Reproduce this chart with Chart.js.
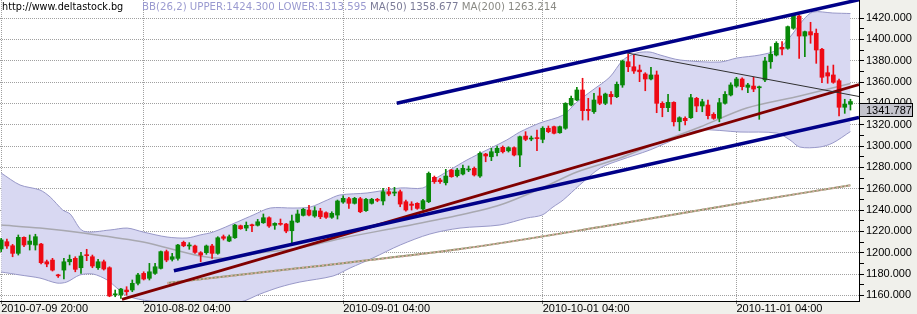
<!DOCTYPE html>
<html>
<head>
<meta charset="utf-8">
<script src="https://cdn.jsdelivr.net/npm/chart.js@4.4.0/dist/chart.umd.min.js"></script>
<style>
  html, body { margin: 0; padding: 0; background: #f0f0eb; }
  #wrap { width: 917px; height: 314px; position: relative; }
</style>
</head>
<body>
<div id="wrap"><canvas id="chart"></canvas></div>
<script>
// Candles, one per bar index (0 .. 149)
const opens = [
  1203.5, 1210.3, 1206.5, 1199.4, 1214.4, 1207.8, 1207.2, 1208.1, 1191.5, 1193.1,
  1179.1, 1183.7, 1191.5, 1194.7, 1185.9, 1197.8, 1196.2, 1185.9, 1191.5, 1185.9,
  1160.5, 1160.3, 1165.0, 1165.0, 1171.3, 1180.6, 1176.0, 1180.6, 1185.3, 1201.0,
  1193.8, 1194.7, 1209.7, 1206.3, 1206.3, 1200.0, 1200.0, 1206.3, 1199.4, 1215.0,
  1210.9, 1214.0, 1225.3, 1223.1, 1225.9, 1225.7, 1228.1, 1232.8, 1225.7, 1227.5,
  1226.9, 1220.6, 1228.8, 1235.0, 1240.0, 1234.4, 1239.1, 1237.5, 1233.2, 1235.3,
  1247.5, 1250.6, 1246.3, 1250.6, 1239.4, 1246.3, 1249.7, 1248.5, 1257.2, 1255.9,
  1257.2, 1247.8, 1245.6, 1246.3, 1241.0, 1247.8, 1270.7, 1268.2, 1265.6, 1277.5,
  1272.2, 1273.8, 1277.6, 1279.1, 1271.9, 1292.5, 1290.0, 1293.8, 1298.8, 1295.6,
  1298.5, 1291.6, 1309.4, 1306.6, 1307.6, 1306.3, 1316.7, 1318.2, 1312.5, 1316.7,
  1338.5, 1343.2, 1352.6, 1334.5, 1332.2, 1347.0, 1340.1, 1348.5, 1346.3, 1357.3,
  1379.1, 1374.4, 1371.3, 1367.6, 1362.9, 1366.7, 1340.1, 1336.0, 1341.0, 1322.8,
  1326.0, 1326.6, 1344.8, 1337.6, 1338.5, 1329.8, 1326.0, 1340.1, 1347.9, 1356.3,
  1362.9, 1355.1, 1356.3, 1354.7, 1362.0, 1379.1, 1385.4, 1392.6, 1391.7, 1410.5,
  1422.0, 1403.2, 1407.3, 1405.8, 1390.8, 1368.8, 1366.7, 1361.3, 1336.4, 1339.2
];
const highs = [
  1213.5, 1212.8, 1207.8, 1216.6, 1215.0, 1216.6, 1217.3, 1208.8, 1193.1, 1194.7,
  1179.8, 1194.7, 1197.8, 1196.2, 1200.3, 1203.2, 1197.8, 1193.8, 1193.1, 1186.8,
  1165.0, 1166.6, 1168.1, 1174.4, 1180.6, 1182.1, 1190.0, 1190.0, 1201.6, 1202.5,
  1199.4, 1207.8, 1210.9, 1209.4, 1207.2, 1201.0, 1207.2, 1207.8, 1215.0, 1216.6,
  1216.6, 1226.6, 1225.9, 1228.8, 1226.9, 1231.3, 1236.3, 1233.7, 1228.1, 1231.6,
  1227.5, 1235.3, 1240.0, 1241.6, 1244.4, 1243.1, 1241.6, 1238.4, 1238.4, 1249.4,
  1253.4, 1251.9, 1251.9, 1251.9, 1251.0, 1251.0, 1251.0, 1260.4, 1261.3, 1261.3,
  1258.8, 1249.4, 1247.8, 1246.9, 1250.1, 1275.7, 1271.9, 1269.8, 1278.2, 1278.2,
  1279.1, 1282.2, 1281.3, 1280.4, 1294.7, 1293.2, 1297.9, 1300.1, 1300.1, 1299.4,
  1299.4, 1309.4, 1313.5, 1309.4, 1315.1, 1318.2, 1318.8, 1318.8, 1318.8, 1340.7,
  1347.0, 1355.1, 1363.6, 1344.8, 1349.5, 1354.7, 1349.7, 1351.0, 1360.1, 1380.7,
  1386.3, 1385.4, 1376.0, 1368.8, 1373.9, 1370.4, 1341.6, 1348.5, 1341.6, 1327.5,
  1327.5, 1348.5, 1345.7, 1343.9, 1343.2, 1331.3, 1344.8, 1351.0, 1359.4, 1364.5,
  1364.1, 1358.9, 1364.5, 1356.3, 1383.3, 1393.2, 1397.9, 1397.9, 1412.6, 1424.5,
  1422.9, 1407.9, 1416.1, 1409.8, 1391.7, 1375.1, 1376.0, 1362.9, 1343.9, 1343.9
];
const lows = [
  1201.0, 1204.0, 1196.2, 1197.8, 1205.6, 1202.5, 1202.5, 1189.4, 1186.8, 1182.8,
  1176.8, 1175.3, 1188.5, 1182.1, 1180.6, 1192.5, 1185.9, 1184.4, 1183.7, 1158.7,
  1158.7, 1157.2, 1160.3, 1163.4, 1169.7, 1174.4, 1174.4, 1179.7, 1184.7, 1191.5,
  1192.2, 1193.1, 1205.6, 1203.2, 1199.4, 1191.5, 1198.5, 1194.7, 1198.5, 1211.9,
  1210.3, 1213.5, 1221.9, 1220.6, 1219.7, 1225.0, 1227.5, 1223.8, 1221.9, 1225.7,
  1218.7, 1208.8, 1228.1, 1234.4, 1234.4, 1233.2, 1231.9, 1232.2, 1232.2, 1231.6,
  1246.3, 1241.6, 1245.6, 1237.5, 1238.8, 1245.6, 1247.8, 1244.7, 1253.4, 1253.4,
  1243.1, 1239.0, 1240.0, 1240.7, 1240.0, 1246.9, 1265.0, 1265.0, 1263.5, 1270.7,
  1271.0, 1272.9, 1276.0, 1271.9, 1270.7, 1285.3, 1286.3, 1290.7, 1293.5, 1294.4,
  1290.7, 1280.6, 1305.0, 1305.0, 1295.6, 1303.1, 1312.5, 1311.3, 1312.0, 1315.7,
  1337.6, 1342.5, 1324.4, 1324.4, 1330.7, 1338.8, 1338.8, 1339.4, 1345.4, 1355.1,
  1369.7, 1368.2, 1360.4, 1351.9, 1362.0, 1331.3, 1327.5, 1332.2, 1318.8, 1314.4,
  1319.8, 1326.0, 1332.2, 1332.2, 1325.4, 1325.1, 1322.8, 1339.4, 1347.0, 1355.1,
  1352.6, 1350.0, 1351.0, 1325.1, 1360.4, 1372.9, 1384.5, 1385.4, 1390.8, 1409.5,
  1382.3, 1383.8, 1396.4, 1377.6, 1359.4, 1358.9, 1358.9, 1328.2, 1330.7, 1333.8
];
const closes = [
  1212.0, 1206.3, 1199.4, 1214.4, 1207.2, 1210.9, 1215.0, 1190.6, 1189.4, 1183.7,
  1178.3, 1191.5, 1193.8, 1184.4, 1196.9, 1197.2, 1187.5, 1191.5, 1184.7, 1159.4,
  1161.3, 1165.9, 1163.4, 1171.3, 1179.1, 1175.3, 1182.1, 1186.8, 1201.0, 1193.1,
  1196.2, 1207.2, 1206.5, 1206.9, 1200.3, 1197.8, 1206.3, 1199.4, 1214.0, 1213.5,
  1215.0, 1225.9, 1222.5, 1225.7, 1225.3, 1229.0, 1232.8, 1225.0, 1227.5, 1226.6,
  1220.3, 1229.7, 1236.3, 1240.7, 1235.3, 1239.4, 1233.7, 1233.2, 1236.9, 1248.5,
  1251.0, 1246.3, 1251.0, 1238.4, 1250.1, 1250.1, 1249.1, 1257.2, 1255.0, 1256.9,
  1245.6, 1240.0, 1244.4, 1241.6, 1248.8, 1274.4, 1266.6, 1266.6, 1271.9, 1271.3,
  1277.5, 1279.1, 1278.5, 1272.9, 1293.2, 1290.7, 1294.7, 1297.9, 1294.7, 1298.5,
  1291.6, 1308.8, 1306.3, 1307.3, 1307.0, 1316.7, 1313.5, 1312.0, 1318.2, 1340.1,
  1344.8, 1352.6, 1333.2, 1333.2, 1343.2, 1340.1, 1348.8, 1346.3, 1357.9, 1379.8,
  1374.4, 1370.4, 1369.7, 1362.9, 1366.7, 1340.1, 1336.0, 1341.0, 1322.8, 1326.6,
  1323.8, 1345.4, 1337.6, 1341.6, 1328.5, 1326.0, 1340.7, 1348.5, 1357.3, 1362.9,
  1355.7, 1357.3, 1353.5, 1355.4, 1379.8, 1386.1, 1396.4, 1391.0, 1412.0, 1422.9,
  1403.2, 1407.3, 1404.2, 1390.1, 1364.5, 1365.7, 1359.8, 1336.4, 1339.4, 1341.787
];

// Indicators as [bar index, value]
const bbUpper = [
  [0, 1274.7], [3.3, 1263.5], [6.8, 1258.8], [8.6, 1252.2], [10.8, 1240.0], [12.1, 1236.3],
  [14.4, 1220.3], [19.1, 1221.3], [22.1, 1223.1], [24.9, 1219.4], [29.1, 1214.7], [32.6, 1213.8],
  [34.9, 1216.6], [37.2, 1219.4], [41.4, 1228.8], [44.2, 1235.3], [47.2, 1241.9], [51.2, 1241.9],
  [54.2, 1242.8], [57.2, 1249.4], [59.4, 1254.1], [64.2, 1256.0], [70.0, 1260.7], [74.0, 1260.7],
  [75.8, 1268.2], [78.7, 1277.5], [81.7, 1286.9], [85.2, 1296.3], [88.7, 1305.7], [91.0, 1313.2],
  [94.5, 1321.6], [98.6, 1329.1], [101.0, 1341.3], [103.8, 1352.6], [106.8, 1364.8], [109.1, 1380.7],
  [111.5, 1387.3], [113.8, 1388.2], [115.6, 1385.4], [119.1, 1380.7], [126.1, 1378.8], [129.1, 1382.6],
  [133.1, 1385.4], [136.1, 1390.1], [138.4, 1402.3], [140.7, 1418.2], [142.4, 1425.7], [145.9, 1424.8],
  [149, 1424.3]
];
const bbLower = [
  [0, 1181.9], [3.3, 1179.1], [6.8, 1176.2], [9.8, 1171.5], [11.5, 1172.5], [13.8, 1179.1],
  [16.1, 1180.0], [18.6, 1174.4], [20.3, 1166.9], [22.1, 1159.4], [26.1, 1154.7], [34.9, 1151.8],
  [41.9, 1153.7], [45.4, 1161.2], [48.9, 1167.8], [52.4, 1172.5], [58.2, 1178.1], [61.2, 1185.6],
  [65.2, 1195.0], [70.0, 1207.2], [75.2, 1217.5], [80.5, 1223.1], [87.5, 1226.0], [92.2, 1232.5],
  [94.9, 1235.3], [96.8, 1242.8], [98.6, 1249.4], [101.5, 1263.5], [105.1, 1279.4], [108.6, 1286.9],
  [113.8, 1296.3], [119.1, 1308.5], [122.6, 1315.1], [129.6, 1313.2], [136.1, 1312.2], [138.4, 1305.7],
  [140.1, 1299.1], [143.6, 1299.1], [145.9, 1302.9], [149, 1313.6]
];
const ma50 = [
  [0, 1225.9], [6.8, 1223.1], [14.4, 1218.4], [24.9, 1210.0], [34.9, 1196.9], [40.1, 1195.0],
  [45.4, 1199.7], [52.4, 1204.4], [60.0, 1213.8], [70.0, 1224.1], [80.5, 1235.3], [87.5, 1244.7],
  [94.5, 1259.7], [101.0, 1275.7], [108.6, 1288.8], [113.8, 1300.1], [122.6, 1317.9], [130.8, 1335.7],
  [140.1, 1347.0], [149, 1358.7]
];
const ma200 = [
  [29.1, 1171.5], [52.4, 1185.6], [80.5, 1203.4], [105.1, 1224.1], [133.1, 1249.4], [149, 1263.2]
];

// Hand-drawn trend lines, endpoints as [bar index, price]
const channelTop = [[69.4, 1340.1], [150.5, 1437.3]];
const channelBottom = [[30.3, 1183.1], [150.5, 1326.8]];
const redTrend = [[21.2, 1156.2], [150.5, 1357.6]];
const blackTrend = [[109.8, 1387.3], [150.5, 1346.5]];

// Axis labels
const xTickIdx = [0, 25, 60, 95, 129];
const xTickLabels = ["2010-07-09 20:00", "2010-08-02 04:00", "2010-09-01 04:00", "2010-10-01 04:00", "2010-11-01 04:00"];
const headerSite = "http://www.deltastock.bg";
const headerParts = [
  ["BB(26,2) UPPER:1424.300 LOWER:1313.595 ", "#9a9ad0"],
  ["MA(50) 1358.677 ", "#7c7c98"],
  ["MA(200) 1263.214", "#8a8a84"]
];

const UP = "#088808";
const DOWN = "#ee0a14";

const pts = arr => arr.map(p => ({ x: p[0], y: p[1] }));
const candleColor = ctx => closes[ctx.dataIndex] >= opens[ctx.dataIndex] ? UP : DOWN;

const bgPlugin = {
  id: "bg",
  beforeDraw(chart) {
    const { ctx, chartArea: a } = chart;
    ctx.save();
    ctx.fillStyle = "#f0f0eb";
    ctx.fillRect(0, 0, chart.width, chart.height);
    ctx.fillStyle = "#ffffff";
    ctx.fillRect(a.left, a.top, a.right - a.left, a.bottom - a.top);
    ctx.restore();
  }
};

const overlayPlugin = {
  id: "overlay",
  afterDraw(chart) {
    const { ctx, chartArea: a } = chart;
    ctx.save();
    // header
    ctx.textBaseline = "middle";
    ctx.font = "9.7px 'DejaVu Sans'";
    ctx.fillStyle = "#000";
    ctx.fillText(headerSite, 2, 7);
    ctx.font = "10.2px 'DejaVu Sans'";
    let x = 142;
    headerParts.forEach(([t, c]) => {
      ctx.fillStyle = c;
      ctx.fillText(t, x, 7);
      x += ctx.measureText(t).width;
    });
    // last price box on the axis
    const last = closes[closes.length - 1];
    const y = Math.round(chart.scales.y.getPixelForValue(last));
    ctx.fillStyle = "#c4c4cc";
    ctx.fillRect(a.right + 1, y + 1, 52, 13);
    ctx.strokeStyle = "#000";
    ctx.lineWidth = 1;
    ctx.strokeRect(a.right + 0.5, y + 1.5, 53, 13);
    ctx.fillStyle = "#000";
    ctx.font = "11px 'Liberation Sans'";
    ctx.fillText(last.toFixed(3), a.right + 7, y + 8.5);
    ctx.restore();
  }
};

const lineDs = (data, color, width, order, extra) => Object.assign({
  type: "line",
  data: pts(data),
  borderColor: color,
  borderWidth: width,
  pointRadius: 0,
  fill: false,
  order: order
}, extra || {});

new Chart(document.getElementById("chart"), {
  type: "bar",
  data: {
    datasets: [
      lineDs(bbUpper, "#9898c8", 1, 20, { fill: "+1", backgroundColor: "#d8d8f2", tension: 0.3 }),
      lineDs(bbLower, "#9898c8", 1, 19, { tension: 0.3 }),
      lineDs(ma200, "#8c9468", 2, 18, { tension: 0.3 }),
      lineDs(ma200, "#d8aca4", 2, 17, { tension: 0.3, borderDash: [2, 2] }),
      lineDs(ma50, "#a8a8b0", 1.5, 16, { tension: 0.3 }),
      {
        data: highs.map((h, i) => ({ x: i, y: [lows[i], h] })),
        backgroundColor: candleColor,
        barThickness: 1,
        grouped: false,
        order: 12
      },
      {
        data: opens.map((o, i) => ({ x: i, y: [o, closes[i]] })),
        backgroundColor: candleColor,
        barThickness: 4,
        minBarLength: 1,
        grouped: false,
        order: 11
      },
      lineDs(redTrend, "#800000", 2.8, 5),
      lineDs(channelTop, "#000088", 3.5, 4),
      lineDs(channelBottom, "#000088", 3.5, 4),
      lineDs(blackTrend, "#303030", 1, 3)
    ]
  },
  options: {
    responsive: true,
    maintainAspectRatio: false,
    animation: false,
    layout: { padding: 0 },
    plugins: {
      legend: { display: false },
      tooltip: { enabled: false }
    },
    scales: {
      x: {
        type: "linear",
        min: -0.21,
        max: 150.5,
        offset: false,
        afterBuildTicks: s => { s.ticks = xTickIdx.map(v => ({ value: v })); },
        afterFit: s => { s.height = 13; s.paddingLeft = 0; s.paddingRight = 0; },
        ticks: {
          autoSkip: false,
          maxRotation: 0,
          minRotation: 0,
          align: "start",
          padding: -2,
          color: "#000",
          font: { family: "Liberation Sans", size: 11 },
          callback: v => xTickLabels[xTickIdx.indexOf(v)]
        },
        grid: { color: "#a0a0a0", tickColor: "#707070", tickLength: 3, offset: false },
        border: { color: "#000", width: 1, dash: [1, 1] }
      },
      y: {
        position: "right",
        min: 1154.7,
        max: 1437,
        beginAtZero: false,
        afterBuildTicks: s => {
          const t = [];
          for (let v = 1160; v <= 1420; v += 10) t.push({ value: v });
          s.ticks = t;
        },
        afterFit: s => { s.width = 58; s.paddingTop = 0; s.paddingBottom = 0; },
        ticks: {
          autoSkip: false,
          padding: 2,
          color: "#000",
          font: { family: "Liberation Sans", size: 11 },
          callback: v => (v % 20 === 0 ? v.toFixed(3) : "")
        },
        grid: {
          color: c => (c.tick && c.tick.value % 20 === 0 ? "#a0a0a0" : "rgba(0,0,0,0)"),
          tickColor: "#000",
          tickLength: 5
        },
        border: { color: "#000", width: 1, dash: [1, 1] }
      }
    }
  },
  plugins: [bgPlugin, overlayPlugin]
});
</script>
</body>
</html>
